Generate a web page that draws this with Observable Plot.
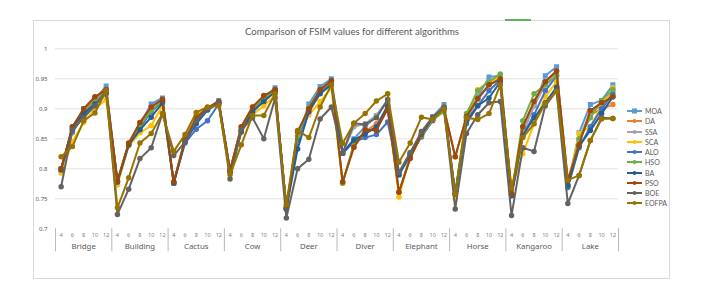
<!DOCTYPE html>
<html><head><meta charset="utf-8">
<script src="https://cdn.jsdelivr.net/npm/d3@7"></script>
<script src="https://cdn.jsdelivr.net/npm/@observablehq/plot@0.6"></script>
<style>
body{margin:0;background:#fff;font-family:Lato,"Liberation Sans",sans-serif;}
#wrap{position:relative;width:701px;height:299px;overflow:hidden;}
#frame{position:absolute;left:33px;top:20px;width:637px;height:259px;border:1px solid #d9d9d9;box-sizing:border-box;}
#sel{position:absolute;left:505px;top:19px;width:26px;height:2px;background:#5fb35a;}
#title{position:absolute;left:0;width:704px;top:26px;text-align:center;font-size:9.6px;color:#595959;}
#chart{position:absolute;left:0;top:0;}
#legend{position:absolute;left:627px;top:106px;font-size:7px;color:#595959;}
.li{height:10.25px;display:flex;align-items:center;}
.li svg{margin-right:3px;}
</style></head>
<body><div id="wrap"><div id="frame"></div><div id="sel"></div><div id="title">Comparison of FSIM values for different algorithms</div><div id="chart"></div><div id="legend"></div></div>
<script>
const groups = ["Bridge","Building","Cactus","Cow","Deer","Diver","Elephant","Horse","Kangaroo","Lake"];
const sizes = [4,6,8,10,12];
const seriesNames = ["MOA","DA","SSA","SCA","ALO","HSO","BA","PSO","BOE","EOFPA"];
const colors = ["#5B9BD5","#ED7D31","#A5A5A5","#FFC000","#4472C4","#70AD47","#255E91","#9E480E","#636363","#997300"];
const yTicks = [0.7,0.75,0.8,0.85,0.9,0.95,1];

const MOA = [0.800,0.868,0.900,0.915,0.938, 0.778,0.842,0.875,0.908,0.918, 0.776,0.848,0.885,0.900,0.914, 0.797,0.868,0.900,0.918,0.935, 0.735,0.850,0.908,0.937,0.950, 0.826,0.850,0.870,0.889,0.915, 0.790,0.825,0.860,0.887,0.907, 0.758,0.885,0.920,0.953,0.955, 0.758,0.860,0.905,0.955,0.970, 0.772,0.860,0.907,0.914,0.940];
const DA = [0.798,0.865,0.895,0.918,0.932, 0.780,0.842,0.877,0.903,0.915, 0.778,0.848,0.885,0.902,0.912, 0.797,0.870,0.903,0.920,0.932, 0.735,0.860,0.900,0.930,0.945, 0.778,0.836,0.862,0.875,0.900, 0.761,0.819,0.856,0.884,0.900, 0.820,0.887,0.917,0.940,0.950, 0.758,0.870,0.912,0.945,0.963, 0.781,0.845,0.890,0.900,0.907];
const SSA = [0.795,0.860,0.890,0.910,0.928, 0.776,0.840,0.870,0.898,0.912, 0.776,0.845,0.882,0.898,0.910, 0.795,0.865,0.898,0.915,0.930, 0.733,0.855,0.895,0.928,0.942, 0.826,0.870,0.875,0.889,0.912, 0.794,0.825,0.858,0.886,0.902, 0.758,0.880,0.915,0.940,0.948, 0.755,0.862,0.905,0.940,0.958, 0.772,0.850,0.895,0.905,0.930];
const SCA = [0.793,0.845,0.877,0.900,0.915, 0.773,0.838,0.860,0.872,0.905, 0.776,0.850,0.890,0.900,0.910, 0.793,0.860,0.890,0.905,0.922, 0.738,0.855,0.890,0.912,0.935, 0.776,0.840,0.860,0.870,0.905, 0.753,0.822,0.855,0.883,0.903, 0.750,0.885,0.932,0.945,0.952, 0.765,0.825,0.875,0.920,0.945, 0.772,0.859,0.870,0.905,0.935];
const ALO = [0.800,0.862,0.888,0.905,0.928, 0.778,0.840,0.868,0.895,0.912, 0.777,0.843,0.866,0.880,0.908, 0.797,0.862,0.895,0.915,0.930, 0.733,0.848,0.900,0.928,0.943, 0.826,0.845,0.852,0.857,0.878, 0.790,0.822,0.853,0.880,0.900, 0.758,0.875,0.905,0.930,0.948, 0.758,0.855,0.890,0.930,0.955, 0.769,0.835,0.870,0.900,0.925];
const HSO = [0.800,0.866,0.895,0.912,0.930, 0.778,0.842,0.872,0.897,0.913, 0.776,0.850,0.880,0.900,0.910, 0.797,0.865,0.900,0.918,0.930, 0.735,0.855,0.902,0.930,0.945, 0.776,0.842,0.860,0.870,0.900, 0.761,0.820,0.855,0.882,0.895, 0.758,0.892,0.930,0.945,0.958, 0.758,0.880,0.925,0.940,0.955, 0.772,0.850,0.885,0.914,0.932];
const BA = [0.798,0.870,0.892,0.908,0.925, 0.778,0.840,0.865,0.886,0.910, 0.776,0.845,0.875,0.898,0.910, 0.795,0.862,0.895,0.912,0.928, 0.733,0.833,0.895,0.925,0.940, 0.826,0.848,0.858,0.870,0.905, 0.790,0.825,0.857,0.885,0.902, 0.758,0.880,0.905,0.918,0.945, 0.755,0.855,0.885,0.910,0.936, 0.772,0.838,0.864,0.892,0.920];
const PSO = [0.800,0.870,0.900,0.920,0.932, 0.780,0.843,0.877,0.903,0.916, 0.778,0.848,0.885,0.902,0.912, 0.797,0.870,0.903,0.922,0.932, 0.735,0.862,0.900,0.932,0.947, 0.778,0.836,0.865,0.864,0.900, 0.761,0.817,0.858,0.885,0.900, 0.820,0.887,0.917,0.940,0.950, 0.758,0.870,0.912,0.945,0.963, 0.781,0.840,0.897,0.910,0.920];
const BOE = [0.770,0.865,0.885,0.905,0.930, 0.724,0.766,0.817,0.835,0.892, 0.822,0.845,0.880,0.900,0.910, 0.783,0.865,0.885,0.850,0.918, 0.718,0.800,0.816,0.883,0.903, 0.826,0.876,0.874,0.885,0.915, 0.794,0.827,0.862,0.886,0.903, 0.733,0.859,0.890,0.910,0.912, 0.722,0.835,0.829,0.905,0.930, 0.742,0.789,0.847,0.885,0.884];
const EOFPA = [0.820,0.837,0.880,0.893,0.930, 0.735,0.785,0.843,0.859,0.892, 0.829,0.857,0.894,0.903,0.905, 0.790,0.840,0.889,0.889,0.925, 0.740,0.864,0.852,0.903,0.940, 0.842,0.876,0.892,0.913,0.925, 0.811,0.843,0.886,0.882,0.900, 0.758,0.885,0.882,0.892,0.940, 0.767,0.852,0.875,0.909,0.929, 0.781,0.789,0.847,0.883,0.884];

const seriesValues = [MOA,DA,SSA,SCA,ALO,HSO,BA,PSO,BOE,EOFPA];
const cats = groups.flatMap((g, gi) => sizes.map((s, k) => ({idx: gi*5+k, group: g, size: s})));
const groupInfo = groups.map((g, gi) => ({group: g, center: gi*5+2, start: gi*5-0.5}));
groupInfo.push({group:"", center:null, start: groups.length*5-0.5});

const marks = [
  Plot.gridY(yTicks.filter(v => v > 0.7), {stroke:"#d9d9d9", strokeOpacity:1, strokeWidth:0.8}),
  Plot.axisY(yTicks, {tickSize:0, tickPadding:8, fontSize:6, fill:"#595959", tickFormat: d => String(+d.toFixed(2)), label:null}),
  Plot.ruleX(groupInfo, {x:"start", stroke:"#a6a6a6", strokeWidth:0.8, insetTop:180, insetBottom:-23}),
  Plot.text(cats, {x:"idx", text: d => String(d.size), frameAnchor:"bottom", dy:8.5, fontSize:5.5, fill:"#7f7f7f"}),
  Plot.text(groupInfo.filter(d => d.center !== null), {x:"center", text:"group", frameAnchor:"bottom", dy:20.5, fontSize:7.8, fill:"#595959"})
];
seriesNames.forEach((name, si) => {
  const rows = seriesValues[si].map((v, i) => ({idx: i, value: v}));
  marks.push(Plot.line(rows, {x:"idx", y:"value", stroke: colors[si], strokeWidth:2}));
  marks.push(Plot.dot(rows, {x:"idx", y:"value", fill: colors[si], stroke: colors[si], r: 2, symbol: name === "MOA" ? "square" : "circle"}));
});

const plot = Plot.plot({
  width: 701, height: 299,
  marginTop: 48.3, marginBottom: 70.7, marginLeft: 55, marginRight: 83,
  x: {domain: [-0.5, cats.length - 0.5], axis: null},
  y: {domain: [0.7, 1], axis: null},
  style: {background: "transparent", overflow: "visible"},
  marks
});
document.getElementById("chart").appendChild(plot);

const legend = document.getElementById("legend");
seriesNames.forEach((name, si) => {
  const div = document.createElement("div");
  div.className = "li";
  const m = name === "MOA"
    ? `<rect x="5" y="2.5" width="5" height="5" fill="${colors[si]}"/>`
    : `<circle cx="7.5" cy="5" r="2" fill="${colors[si]}"/>`;
  div.innerHTML = `<svg width="15" height="10"><line x1="0" x2="15" y1="5" y2="5" stroke="${colors[si]}" stroke-width="2"/>${m}</svg><span>${name}</span>`;
  legend.appendChild(div);
});
</script></body></html>
